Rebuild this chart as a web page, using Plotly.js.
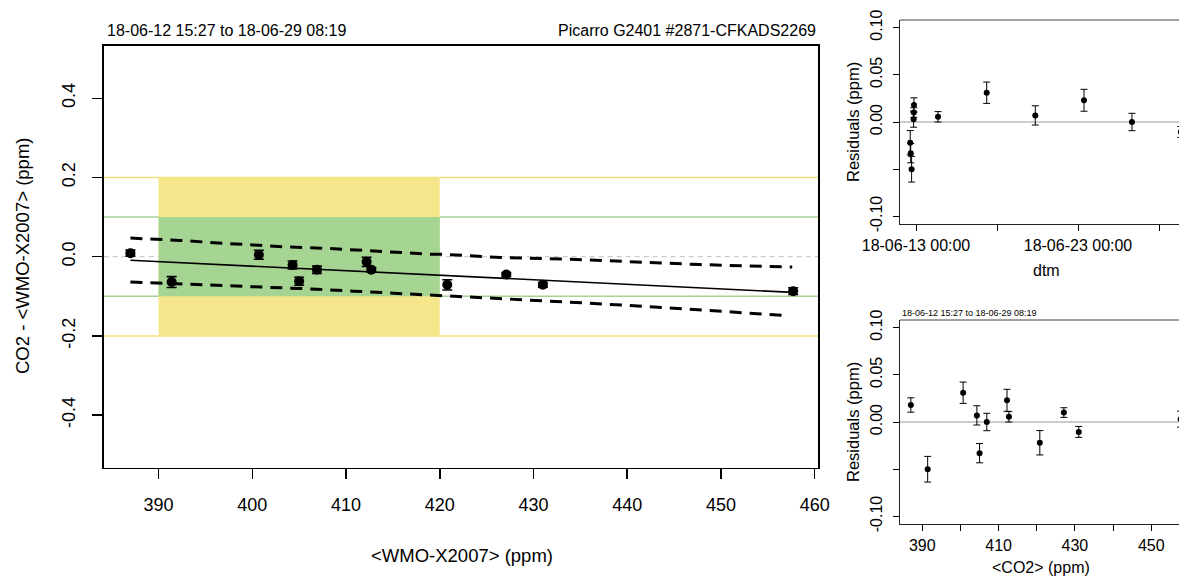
<!DOCTYPE html>
<html>
<head>
<meta charset="utf-8">
<script src="https://cdn.plot.ly/plotly-3.0.1.min.js"></script>
<style>html,body{margin:0;padding:0;background:#fff;}#chart{width:1179px;height:577px;}</style>
</head>
<body>
<div id="chart"></div>
<script>
// ---- data ----
const co2   = [387.0, 391.4, 400.7, 404.3, 405.0, 406.9, 412.2, 412.7, 420.8, 427.1, 431.0, 457.7];
const diff  = [0.009, -0.064, 0.005, -0.021, -0.062, -0.033, -0.013, -0.033, -0.071, -0.045, -0.071, -0.087];
const resid = [0.018, -0.050, 0.031, 0.007, -0.033, 0.000, 0.023, 0.0055, -0.022, 0.010, -0.0105, 0.003];
const errs  = [0.0076, 0.0136, 0.0113, 0.0102, 0.0102, 0.0092, 0.0116, 0.0055, 0.0129, 0.0051, 0.0058, 0.0085];
const dtm   = ['2018-06-12 21:00', '2018-06-12 17:30', '2018-06-17 08:44', '2018-06-20 08:44',
               '2018-06-12 16:10', '2018-06-26 07:55', '2018-06-23 08:53', '2018-06-14 08:35',
               '2018-06-12 15:27', '2018-06-12 20:45', '2018-06-29 08:19', '2018-06-12 20:30'];
const fitX  = [387.0, 457.7];
const fitY  = [-0.009, -0.090];
const upX   = [387.0, 392.3, 397.6, 400.1, 403.3, 408.0, 411.5, 415.8, 419.3, 420.4, 426.5, 434.6, 438.9, 447.8, 457.6];
const upY   = [0.047, 0.041, 0.033, 0.029, 0.025, 0.021, 0.016, 0.011, 0.006, 0.006, -0.002, -0.007, -0.011, -0.020, -0.026];
const loX   = [387.0, 391.6, 396.2, 401.6, 405.8, 410.8, 415.8, 419.3, 424.6, 427.5, 435.7, 444.3, 451.4, 457.2];
const loY   = [-0.064, -0.068, -0.072, -0.076, -0.081, -0.087, -0.093, -0.097, -0.102, -0.106, -0.117, -0.129, -0.141, -0.149];
const bandX = [390, 420];
const outerLim = [-0.2, 0.2];
const innerLim = [-0.1, 0.1];
const mainXTicks = [390, 400, 410, 420, 430, 440, 450, 460];
const mainYTicks = [-0.4, -0.2, 0.0, 0.2, 0.4];
const mainYText  = ['-0.4', '-0.2', '0.0', '0.2', '0.4'];
const resYTicks  = [-0.10, -0.05, 0.00, 0.05, 0.10];
const resYText   = ['-0.10', '', '0.00', '0.05', '0.10'];
const dtmTicks   = ['2018-06-13 00:00', '2018-06-18 00:00', '2018-06-23 00:00', '2018-06-28 00:00'];
const dtmText    = ['18-06-13 00:00', '', '18-06-23 00:00', ''];
const co2Ticks   = [390, 400, 410, 420, 430, 440, 450];
const co2Text    = ['390', '', '410', '', '430', '', '450'];
const periodText = '18-06-12 15:27 to 18-06-29 08:19';
const instrText  = 'Picarro G2401 #2871-CFKADS2269';

// ---- layout helpers ----
const W = 1179, H = 577;
const FONT = 'Liberation Sans, Arial, Helvetica, sans-serif';
const px = v => v / W;
const py = v => 1 - v / H;
const YEL = '#F5E68C', GRN = '#A6D492';

const traces = [
  {x: upX, y: upY, type: 'scatter', mode: 'lines', xaxis: 'x', yaxis: 'y',
   line: {color: 'black', width: 3, dash: '12px,8px'}, hoverinfo: 'skip'},
  {x: loX, y: loY, type: 'scatter', mode: 'lines', xaxis: 'x', yaxis: 'y',
   line: {color: 'black', width: 3, dash: '12px,8px'}, hoverinfo: 'skip'},
  {x: fitX, y: fitY, type: 'scatter', mode: 'lines', xaxis: 'x', yaxis: 'y',
   line: {color: 'black', width: 1.6}},
  {x: co2, y: diff, type: 'scatter', mode: 'markers', xaxis: 'x', yaxis: 'y',
   marker: {color: 'black', size: 10},
   error_y: {type: 'data', array: errs, visible: true, color: 'black', thickness: 1.6, width: 5}},
  {x: dtm, y: resid, type: 'scatter', mode: 'markers', xaxis: 'x2', yaxis: 'y2',
   marker: {color: 'black', size: 6},
   error_y: {type: 'data', array: errs, visible: true, color: 'black', thickness: 1, width: 3.5}},
  {x: co2, y: resid, type: 'scatter', mode: 'markers', xaxis: 'x3', yaxis: 'y3',
   marker: {color: 'black', size: 6},
   error_y: {type: 'data', array: errs, visible: true, color: 'black', thickness: 1, width: 3.5}}
];

const tickFontMain = {family: FONT, size: 18, color: 'black'};
const tickFontSmall = {family: FONT, size: 16, color: 'black'};

const shapes = [
  {type: 'rect', xref: 'x', yref: 'y', x0: bandX[0], x1: bandX[1], y0: outerLim[0], y1: outerLim[1],
   fillcolor: YEL, line: {width: 0}, layer: 'below'},
  {type: 'rect', xref: 'x', yref: 'y', x0: bandX[0], x1: bandX[1], y0: innerLim[0], y1: innerLim[1],
   fillcolor: GRN, line: {width: 0}, layer: 'below'},
  ...outerLim.map(v => ({type: 'line', xref: 'x domain', yref: 'y', x0: 0, x1: 1, y0: v, y1: v,
   line: {color: '#F2E07A', width: 1.5}, layer: 'below'})),
  ...innerLim.map(v => ({type: 'line', xref: 'x domain', yref: 'y', x0: 0, x1: 1, y0: v, y1: v,
   line: {color: GRN, width: 1.5}, layer: 'below'})),
  {type: 'line', xref: 'x domain', yref: 'y', x0: 0, x1: 1, y0: 0, y1: 0,
   line: {color: '#CCCCCC', width: 1.2, dash: '5px,4px'}, layer: 'below'},
  // residual panels: zero lines and top borders
  {type: 'line', xref: 'x2 domain', yref: 'y2', x0: 0, x1: 1, y0: 0, y1: 0,
   line: {color: '#BBBBBB', width: 1.5}, layer: 'below'},
  {type: 'line', xref: 'x3 domain', yref: 'y3', x0: 0, x1: 1, y0: 0, y1: 0,
   line: {color: '#BBBBBB', width: 1.5}, layer: 'below'},
  {type: 'line', xref: 'x2 domain', yref: 'y2 domain', x0: 0, x1: 1, y0: 1, y1: 1,
   line: {color: '#444', width: 1}},
  {type: 'line', xref: 'x3 domain', yref: 'y3 domain', x0: 0, x1: 1, y0: 1, y1: 1,
   line: {color: '#444', width: 1}}
];

const ann = (text, x, y, size, opts) => Object.assign({
  text: text, xref: 'paper', yref: 'paper', x: px(x), y: py(y), showarrow: false,
  font: {family: FONT, size: size, color: 'black'}, xanchor: 'center', yanchor: 'middle'
}, opts || {});

const annotations = [
  ann(periodText, 104.5, 31, 16, {xanchor: 'left'}),
  ann(instrText, 818, 31, 16, {xanchor: 'right'}),
  ann('&lt;WMO-X2007&gt; (ppm)', 462, 555, 18.5),
  ann('CO2 - &lt;WMO-X2007&gt; (ppm)', 22, 256, 18.5, {textangle: -90}),
  ann('Residuals (ppm)', 853, 122, 16.5, {textangle: -90}),
  ann('dtm', 1046, 270, 16),
  ann('Residuals (ppm)', 853, 422, 16.5, {textangle: -90}),
  ann('&lt;CO2&gt; (ppm)', 1041, 567, 16),
  ann(periodText, 899.5, 313, 9, {xanchor: 'left'})
];

const layout = {
  width: W, height: H,
  margin: {l: 0, r: 0, t: 0, b: 0},
  paper_bgcolor: 'white', plot_bgcolor: 'white',
  showlegend: false,
  font: {family: FONT, color: 'black'},
  xaxis: {
    domain: [px(103.7), px(818)], range: [384.15, 460.35], anchor: 'y',
    tickmode: 'array', tickvals: mainXTicks, ticks: 'outside', ticklen: 10, tickwidth: 1.5, tickcolor: 'black',
    showline: true, mirror: true, linecolor: 'black', linewidth: 1.5,
    showgrid: false, zeroline: false, tickfont: tickFontMain, ticklabelstandoff: 10
  },
  yaxis: {
    domain: [py(467.8), py(45.6)], range: [-0.533, 0.533], anchor: 'x',
    tickmode: 'array', tickvals: mainYTicks, ticktext: mainYText, tickangle: -90,
    ticks: 'outside', ticklen: 10, tickwidth: 1.5, tickcolor: 'black',
    showline: true, mirror: true, linecolor: 'black', linewidth: 1.5,
    showgrid: false, zeroline: false, tickfont: tickFontMain, ticklabelstandoff: 10
  },
  xaxis2: {
    type: 'date', domain: [px(900), 1], range: ['2018-06-12 00:18', '2018-06-29 05:38'], anchor: 'y2',
    tickmode: 'array', tickvals: dtmTicks, ticktext: dtmText, tickangle: 0,
    ticks: 'outside', ticklen: 6, tickwidth: 1, tickcolor: 'black',
    showline: true, mirror: false, linecolor: '#222', linewidth: 1,
    showgrid: false, zeroline: false, tickfont: tickFontSmall, ticklabelstandoff: 1
  },
  yaxis2: {
    domain: [py(224), py(20)], range: [-0.108, 0.108], anchor: 'x2',
    tickmode: 'array', tickvals: resYTicks, ticktext: resYText, tickangle: -90,
    ticks: 'outside', ticklen: 6, tickwidth: 1, tickcolor: 'black',
    showline: true, mirror: false, linecolor: '#222', linewidth: 1,
    showgrid: false, zeroline: false, tickfont: tickFontSmall, ticklabelstandoff: 5
  },
  xaxis3: {
    domain: [px(900), 1], range: [384.15, 457.28], anchor: 'y3',
    tickmode: 'array', tickvals: co2Ticks, ticktext: co2Text, tickangle: 0,
    ticks: 'outside', ticklen: 6, tickwidth: 1, tickcolor: 'black',
    showline: true, mirror: false, linecolor: '#222', linewidth: 1,
    showgrid: false, zeroline: false, tickfont: tickFontSmall, ticklabelstandoff: 1
  },
  yaxis3: {
    domain: [py(524), py(320)], range: [-0.108, 0.108], anchor: 'x3',
    tickmode: 'array', tickvals: resYTicks, ticktext: resYText, tickangle: -90,
    ticks: 'outside', ticklen: 6, tickwidth: 1, tickcolor: 'black',
    showline: true, mirror: false, linecolor: '#222', linewidth: 1,
    showgrid: false, zeroline: false, tickfont: tickFontSmall, ticklabelstandoff: 5
  },
  shapes: shapes,
  annotations: annotations
};

Plotly.newPlot('chart', traces, layout, {staticPlot: true, displayModeBar: false});
</script>
</body>
</html>
